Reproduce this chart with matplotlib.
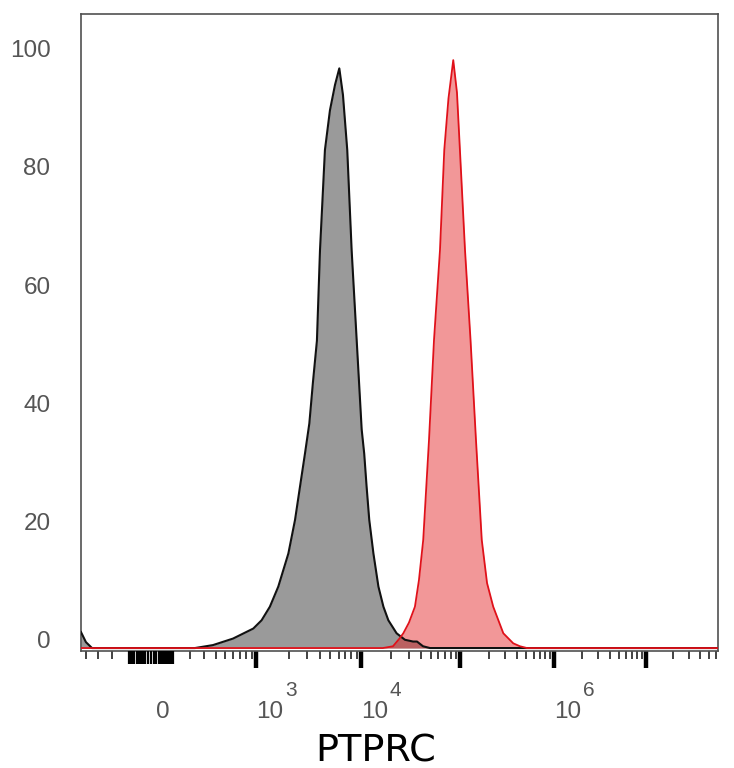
import numpy as np
import matplotlib
matplotlib.use("Agg")
import matplotlib.pyplot as plt
from matplotlib.ticker import FixedLocator, NullFormatter

# ---------------- data ----------------
gray_x = [-453, -403, -347, 232, 376, 599, 934, 1117, 1335, 1600, 1989,
          2299, 2560, 2854, 3140, 3400, 3710, 3970, 4430, 4950, 5540, 6100,
          6620, 7290, 8050, 9020, 10100, 10700, 11300, 12000, 13200, 14800,
          16600, 18600, 22500, 27300, 33000, 36200, 41700, 49100, 6.39e7]
gray_y = [2.7, 1.0, 0, 0, 0.5, 1.6, 3.3, 4.7, 7.0, 10.4, 16.0,
          21.7, 27.3, 32.9, 38, 45, 52, 67.3, 84.3, 91, 95.3, 98.1,
          93.6, 84.3, 67.3, 52.1, 37, 32.9, 27.3, 21.7, 16.0, 10.4,
          7.0, 4.7, 2.5, 1.4, 1.1, 1.1, 0.3, 0, 0]

red_x = [-453, 16400, 20700, 24300, 26300, 30000, 34500, 37900, 41900, 48000,
         54000, 62200, 68900, 76100, 85300, 93200, 100000, 113000, 129000,
         147000, 169000, 192000, 223000, 285000, 363000, 428000, 508000, 6.39e7]
red_y = [0, 0, 0.3, 1.7, 2.5, 4.3, 7.0, 11.5, 18.3, 35.2,
         52.1, 67.3, 84.3, 93, 99.5, 94, 84.3, 67.3, 52.1,
         35.2, 18.3, 11, 7.0, 2.5, 0.8, 0.3, 0, 0]

y_ticks = [0, 20, 40, 60, 80, 100]
x_label_vals = [0, 1e3, 1e4, 1e6]
x_label_base = ["0", "10", "10", "10"]
x_label_exp = ["", "3", "4", "6"]
decade_ticks = [1e3, 1e4, 1e5, 1e6, 1e7]
minor_ticks = ([-400, -300, -200] + list(range(200, 1000, 100)) +
               [m * 10 ** k for k in range(3, 7) for m in range(2, 10)] +
               [2e7, 3e7, 4e7, 5e7, 6e7])
cluster_ticks = list(range(-100, 101, 10))
cluster_long = [-70, 0, 40, 80]
x_lim = (-453, 6.39e7)
y_lim = (-0.5, 107.3)
x_title = "PTPRC"

# ---------------- scale ----------------
A, P = 300.0, 0.88


def fwd(x):
    x = np.asarray(x, dtype=float)
    return np.sign(x) * np.abs(np.arcsinh(x / A)) ** P


def inv(y):
    y = np.asarray(y, dtype=float)
    return A * np.sinh(np.sign(y) * np.abs(y) ** (1.0 / P))


fig = plt.figure(figsize=(7.34, 7.68), dpi=100)
ax = fig.add_axes([81 / 734, 117 / 768, 637 / 734, 637 / 768])
ax.set_xscale("function", functions=(fwd, inv))
ax.set_xlim(*x_lim)
ax.set_ylim(*y_lim)

# histograms
ax.fill_between(gray_x, gray_y, 0, color="#9a9a9a", lw=0, zorder=2)
ax.fill_between(red_x, red_y, 0, color="#e31a1c", alpha=0.45, lw=0, zorder=3)
ax.plot(gray_x, gray_y, color="#111111", lw=1.5, zorder=4,
        solid_joinstyle="round")
ax.plot(red_x, red_y, color="#e0111a", lw=1.3, zorder=5,
        solid_joinstyle="round")

# spines
for s in ax.spines.values():
    s.set_color("#505050")
    s.set_linewidth(1.2)

# x axis ticks
ax.xaxis.set_major_locator(FixedLocator(decade_ticks))
ax.xaxis.set_minor_locator(FixedLocator(minor_ticks))
ax.xaxis.set_major_formatter(NullFormatter())
ax.xaxis.set_minor_formatter(NullFormatter())
ax.tick_params(axis="x", which="major", length=12, width=3.2,
               color="black", direction="out")
ax.tick_params(axis="x", which="minor", length=6, width=1.2,
               color="#222222", direction="out")

# cluster of ticks around zero (twin axis sharing the scale)
ax2 = ax.twiny()
ax2.set_xscale("function", functions=(fwd, inv))
ax2.set_xlim(*x_lim)
ax2.xaxis.set_ticks_position("bottom")
ax2.xaxis.set_major_locator(FixedLocator(cluster_ticks))
ax2.xaxis.set_minor_locator(FixedLocator(cluster_long))
ax2.xaxis.set_major_formatter(NullFormatter())
ax2.xaxis.set_minor_formatter(NullFormatter())
ax2.tick_params(axis="x", which="major", length=9, width=1.6,
                color="black", direction="out")
ax2.tick_params(axis="x", which="minor", length=12.5, width=2.6,
                color="black", direction="out")
for s in ax2.spines.values():
    s.set_visible(False)

# y axis (set after the twin so the shared axis keeps its labels)
ax.set_yticks(y_ticks)
ax.set_yticklabels([str(v) for v in y_ticks])
ax.tick_params(axis="y", length=0, pad=22, labelsize=17.5,
               labelcolor="#555555")
for lab in ax.get_yticklabels():
    lab.set_fontfamily("Liberation Sans")
    lab.set_verticalalignment("baseline")

# x tick labels: base and exponent
for v, b, e in zip(x_label_vals, x_label_base, x_label_exp):
    dx = 4 if v == 0 else 0
    ax.annotate(b, xy=(v, 0), xycoords=("data", "axes fraction"),
                xytext=(dx, -48.5), textcoords="offset points",
                ha="left", va="baseline", fontsize=17.5,
                family="Liberation Sans", color="#555555",
                annotation_clip=False)
    if e:
        ax.annotate(e, xy=(v, 0), xycoords=("data", "axes fraction"),
                    xytext=(20.4, -32.4), textcoords="offset points",
                    ha="left", va="baseline", fontsize=15,
                    family="Liberation Sans", color="#555555",
                    annotation_clip=False)

fig.text(376 / 734, 6.5 / 768, x_title, ha="center", va="baseline",
         fontsize=27.5, family="DejaVu Sans", color="black")

fig.savefig("out.png", dpi=100)
